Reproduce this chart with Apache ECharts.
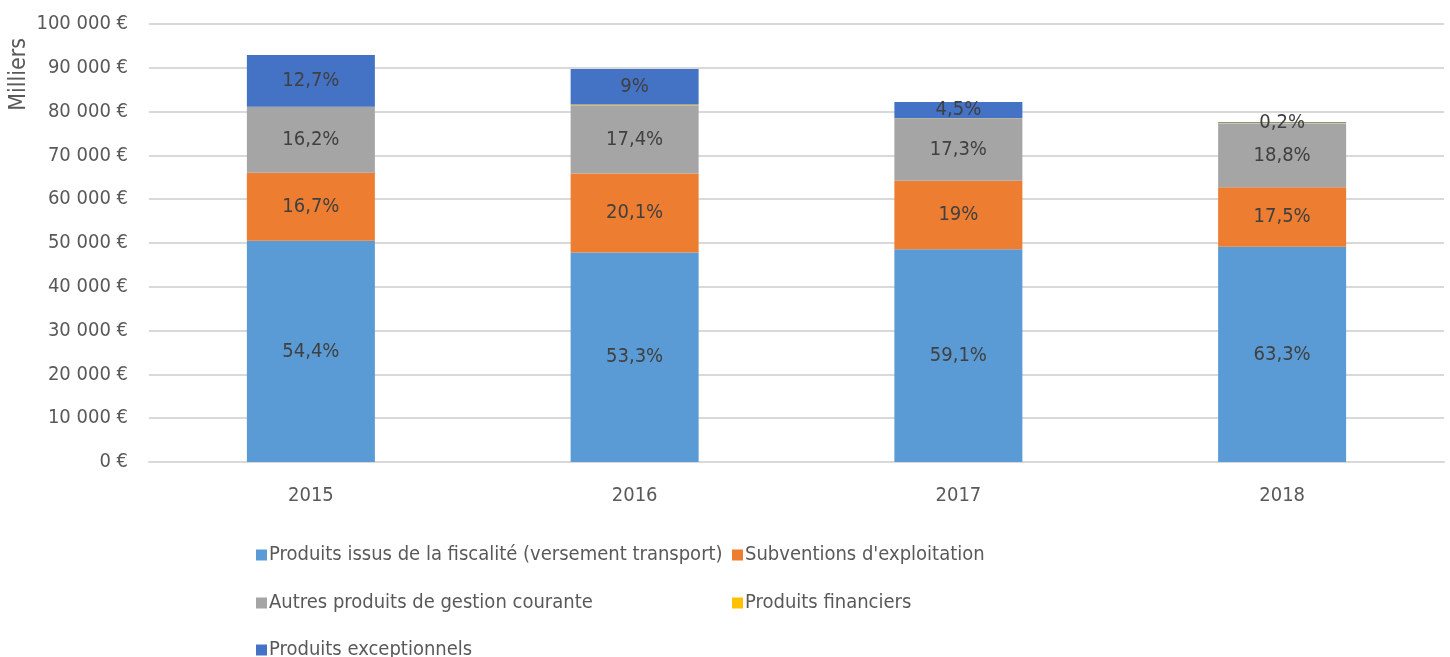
<!DOCTYPE html>
<html>
<head>
<meta charset="utf-8">
<title>Produits</title>
<script src="https://cdn.jsdelivr.net/npm/echarts@6/dist/echarts.min.js"></script>
<style>
  html, body { margin: 0; padding: 0; background: #fff; }
  #main { width: 1450px; height: 657px; }
</style>
</head>
<body>
<div id="main"></div>
<script>
// années
var categories = ['2015', '2016', '2017', '2018'];
// valeurs en milliers d'euros
var fiscalite = [50538, 47810, 48580, 49121];
var subventions = [15514, 18030, 15618, 13580];
var autresProduits = [15050, 15608, 14221, 14589];
var financiers = [0, 179, 82, 155];
var exceptionnels = [11798, 8073, 3699, 155];

var seriesNames = [
	'Produits issus de la fiscalité (versement transport)',
	"Subventions d'exploitation",
	'Autres produits de gestion courante',
	'Produits financiers',
	'Produits exceptionnels'
];
var seriesData = [fiscalite, subventions, autresProduits, financiers, exceptionnels];
var colors = ['#5B9BD5', '#ED7D31', '#A5A5A5', '#FFC000', '#4472C4'];

var font = '"Liberation Sans Narrow", "DejaVu Sans Condensed", "Liberation Sans", sans-serif';

// totaux par année
var totals = [];
for (var j = 0; j < categories.length; j++) {
	var t = 0;
	for (var k = 0; k < seriesData.length; k++) t += seriesData[k][j];
	totals[j] = t;
}

function pctLabel(params) {
	var p = Math.round(params.value / totals[params.dataIndex] * 1000) / 10;
	return String(p).replace('.', ',') + '%';
}

function euro(v) {
	return String(v).replace(/\B(?=(\d{3})+(?!\d))/g, ' ') + ' €';
}

var series = [];
for (var i = 0; i < seriesData.length; i++) {
	series.push({
		name: seriesNames[i],
		type: 'bar',
		stack: 'total',
		barWidth: 128,
		data: seriesData[i],
		itemStyle: { color: colors[i] },
		label: {
			show: i != 3,
			position: 'inside',
			formatter: pctLabel,
			color: '#404040',
			fontSize: 20,
			fontFamily: font
		}
	});
}

// légende en deux colonnes
var legendPos = [[251, 551], [727, 551], [251, 599], [727, 599], [251, 646]];
var legends = [];
for (var n = 0; n < seriesNames.length; n++) {
	legends.push({
		left: legendPos[n][0],
		top: legendPos[n][1] - 11,
		data: [seriesNames[n]],
		icon: 'rect',
		itemWidth: 11,
		itemHeight: 11,
		itemGap: 0,
		textStyle: { color: '#595959', fontSize: 20, fontFamily: font, padding: [0, 0, 0, -3] }
	});
}

var option = {
	animation: false,
	legend: legends,
	grid: { left: 149, right: 6, top: 24, bottom: 195 },
	graphic: [{
		type: 'text',
		left: 8,
		top: 38,
		rotation: Math.PI / 2,
		style: { text: 'Milliers', fontSize: 23, fill: '#595959', fontFamily: font }
	}],
	xAxis: {
		type: 'category',
		data: categories,
		axisLine: { lineStyle: { color: '#D9D9D9', width: 2 } },
		axisTick: { show: false },
		axisLabel: { color: '#595959', fontSize: 20, fontFamily: font, margin: 24 }
	},
	yAxis: {
		type: 'value',
		min: 0,
		max: 100000,
		interval: 10000,
		axisLine: { show: false },
		axisTick: { show: false },
		splitLine: { lineStyle: { color: '#D9D9D9', width: 2 } },
		axisLabel: { color: '#595959', fontSize: 20, fontFamily: font, margin: 21, formatter: euro }
	},
	series: series
};

var myChart = echarts.init(document.getElementById('main'));
myChart.setOption(option);
</script>
</body>
</html>
